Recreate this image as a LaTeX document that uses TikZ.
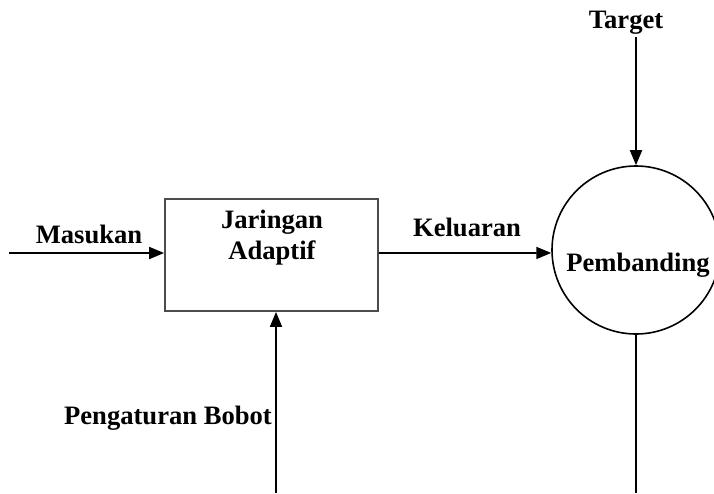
\documentclass[tikz,border=0pt]{standalone}
\usepackage{fontspec}
\setmainfont{Liberation Serif}
\usetikzlibrary{arrows.meta}
\begin{document}
\begin{tikzpicture}[x=1pt,y=-1pt,
  lbl/.style={font=\fontsize{26.6}{31}\selectfont\bfseries, anchor=base, inner sep=0pt},
  arr/.style={line width=1.8pt, -{Triangle[length=15pt,width=12pt]}},
  plain/.style={line width=1.8pt},
  block/.style={draw=black!70, line width=1.8pt, minimum width=213pt, minimum height=112pt, inner sep=0pt},
  comparer/.style={draw, circle, line width=1.6pt, minimum size=168pt, inner sep=0pt}]
\useasboundingbox (0,0) rectangle (714,493);

% adaptive network block and comparator
\node[block] (net) at (271.5,255) {};
\node[comparer] (cmp) at (636,250) {};

% texts
\node[lbl] (tnet1) at (272,228) {Jaringan};
\node[lbl] (tnet2) at (272,259) {Adaptif};
\node[lbl] (tcmp) at (638,271) {Pembanding};
\node[lbl] (tin) at (89,243) {Masukan};
\node[lbl] (tout) at (467,236) {Keluaran};
\node[lbl] (ttgt) at (626,28) {Target};
\node[lbl] (tadj) at (168,424) {Pengaturan Bobot};

% free ends
\coordinate (inL) at (9,253);
\coordinate (tgtTop) at (636,37);
\coordinate (adjBot) at (276,493);
\coordinate (cmpBot) at (636,493);

% connectors
\draw[arr] (inL) -- (inL -| net.west);
\draw[arr] (net.east |- inL) -- (cmp.182);
\draw[arr] (tgtTop) -- (cmp.north);
\draw[arr] (adjBot) -- (adjBot |- net.south);
\draw[plain] (cmp.south) -- (cmpBot);
\end{tikzpicture}
\end{document}
